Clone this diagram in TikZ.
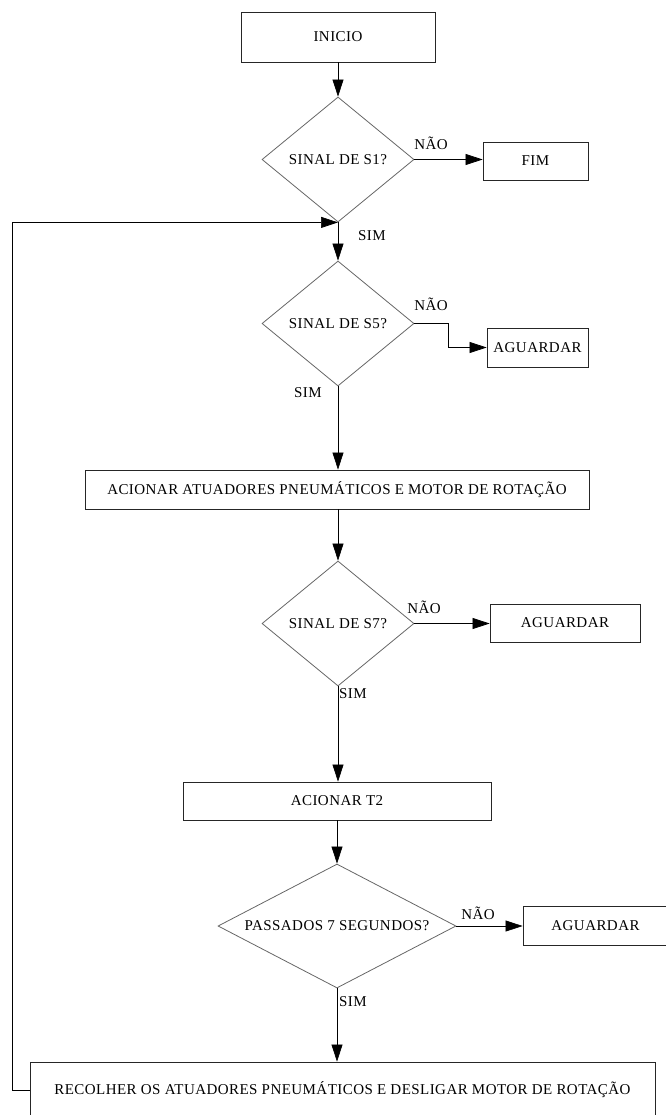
\documentclass[tikz,border=0pt]{standalone}
\usepackage{fontspec}
\setmainfont[LetterSpace=3]{Liberation Serif}
\usetikzlibrary{shapes.geometric,arrows.meta}

\begin{document}
\begin{tikzpicture}[x=1pt,y=-1pt,
		box/.style = {draw=black!85, line width=0.8pt, minimum height=38pt, inner sep=0pt, font=\fontsize{15}{17}\selectfont},
		dec/.style = {diamond, draw=black!60, line width=0.8pt, aspect=1.2, inner sep=0pt, font=\fontsize{15}{17}\selectfont},
		lbl/.style = {inner sep=0pt, font=\fontsize{15}{17}\selectfont},
		>={Triangle[length=17pt,width=11pt]}, line width=0.7pt
	]
	\useasboundingbox (0,0) rectangle (665,1115);
	\node[box, minimum width=194pt, minimum height=50pt] (inicio) at (338,37) {INICIO};
	\node[dec, minimum width=152pt, minimum height=125pt] (s1) at (338,159.5) {SINAL DE S1?};
	\node[box, minimum width=105pt] (fim) at (535.5,161) {FIM};
	\node[dec, minimum width=152pt, minimum height=125pt] (s5) at (338,323.5) {SINAL DE S5?};
	\node[box, minimum width=101pt, minimum height=39pt] (aguarda1) at (537.5,347.5) {AGUARDAR};
	\node[box, minimum width=504pt, minimum height=39pt] (acionar) at (337,489.5) {ACIONAR ATUADORES PNEUMÁTICOS E MOTOR DE ROTAÇÃO};
	\node[dec, minimum width=152pt, minimum height=125pt] (s7) at (338,623.5) {SINAL DE S7?};
	\node[box, minimum width=150pt] (aguarda2) at (565,623) {AGUARDAR};
	\node[box, minimum width=308pt] (t2) at (337,801) {ACIONAR T2};
	\node[dec, aspect=2, minimum width=238pt, minimum height=124pt] (tempo) at (337,926) {PASSADOS 7 SEGUNDOS?};
	\node[box, minimum width=145pt, minimum height=39pt] (aguarda3) at (595.5,925.5) {AGUARDAR};
	\node[box, minimum width=625pt, minimum height=56pt] (recolher) at (342.5,1090) {RECOLHER OS ATUADORES PNEUMÁTICOS E DESLIGAR MOTOR DE ROTAÇÃO};

	% respostas
	\node[lbl] (nao1) at (431,143) {NÃO};
	\node[lbl] (sim1) at (372,236) {SIM};
	\node[lbl] (nao2) at (431,304) {NÃO};
	\node[lbl] (sim2) at (308,393) {SIM};
	\node[lbl] (nao3) at (424,607) {NÃO};
	\node[lbl] (sim3) at (353,694) {SIM};
	\node[lbl] (nao4) at (478,913) {NÃO};
	\node[lbl] (sim4) at (353,1002) {SIM};

	\draw[->] (inicio) -- (s1);
	\draw[->] (s1.east) -- (s1.east -| fim.west);
	\draw[->] (s1) -- (s5);
	\draw[->] (s5.east) -- ++(34,0) |- (aguarda1.west);
	\draw[->] (s5.south) -- (s5.south |- acionar.north);
	\draw[->] (acionar.south -| s7.north) -- (s7.north);
	\draw[->] (s7.east) -- (s7.east -| aguarda2.west);
	\draw[->] (s7.south) -- (s7.south |- t2.north);
	\draw[->] (t2.south -| tempo.north) -- (tempo.north);
	\draw[->] (tempo.east) -- (tempo.east -| aguarda3.west);
	\draw[->] (tempo.south) -- (tempo.south |- recolher.north);
	% volta ao inicio
	\draw[->] (recolher.west) -- ++(-17,0) |- (s1.south);
\end{tikzpicture}
\end{document}
